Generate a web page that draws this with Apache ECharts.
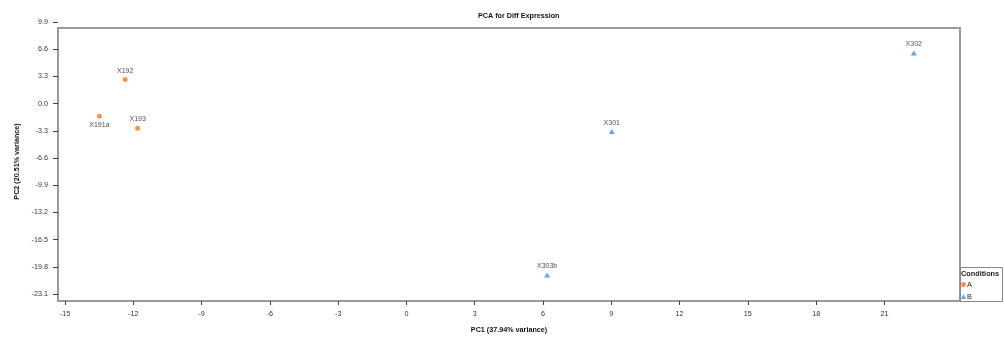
<!DOCTYPE html>
<html>
<head>
<meta charset="utf-8">
<script src="https://cdn.jsdelivr.net/npm/echarts@6/dist/echarts.min.js"></script>
<style>html,body{margin:0;padding:0;background:#fff}#c{width:1004px;height:340px}</style>
</head>
<body>
<div id="c"></div>
<script>
// ---- data ----
const samplesA = ['X191a', 'X192', 'X193'];
const pc1A = [-13.49, -12.36, -11.81];
const pc2A = [-1.54, 2.91, -3.0];
const samplesB = ['X301', 'X302', 'X303b'];
const pc1B = [9.02, 22.29, 6.18];
const pc2B = [-3.40, 6.15, -20.79];
const xTicks = [-15, -12, -9, -6, -3, 0, 3, 6, 9, 12, 15, 18, 21];
const yTicks = [9.9, 6.6, 3.3, 0.0, -3.3, -6.6, -9.9, -13.2, -16.5, -19.8, -23.1];
const conditions = ['A', 'B'];
const chartTitle = 'PCA for Diff Expression';
const xName = 'PC1 (37.94% variance)';
const yName = 'PC2 (20.51% variance)';

const belowLabels = new Set(['X191a']);
const FONT = '"Liberation Sans", Arial, sans-serif';

function pts(names, xs, ys) {
  return names.map((n, i) => ({
    name: n,
    value: [xs[i], ys[i]],
    label: { position: belowLabels.has(n) ? 'bottom' : 'top' }
  }));
}

const chart = echarts.init(document.getElementById('c'), null, { renderer: 'canvas' });
const labelCfg = { show: true, formatter: p => p.name, fontSize: 7, color: '#1a1a1a', fontFamily: FONT, distance: 3 };

chart.setOption({
  animation: false,
  title: {
    text: chartTitle, left: 473, top: 8,
    textStyle: { fontSize: 7.2, fontWeight: 'bold', color: '#111', fontFamily: FONT }
  },
  grid: { left: 58, right: 44, top: 22, bottom: 39 },
  xAxis: {
    type: 'value', min: -15.31, max: 24.32,
    name: xName, nameLocation: 'middle', nameGap: 26,
    nameTextStyle: { fontSize: 7.2, fontWeight: 'bold', color: '#111', fontFamily: FONT },
    axisLine: { show: false, onZero: false },
    axisTick: { show: true, customValues: xTicks, length: 4, lineStyle: { color: '#444' } },
    axisLabel: { customValues: xTicks, fontSize: 7.2, color: '#333', fontFamily: FONT, margin: 10 },
    splitLine: { show: false }
  },
  yAxis: {
    type: 'value', min: -23.95, max: 9.9,
    name: yName, nameLocation: 'middle', nameGap: 34, nameRotate: 90,
    nameTextStyle: { fontSize: 7.2, fontWeight: 'bold', color: '#111', fontFamily: FONT },
    axisLine: { show: false, onZero: false },
    axisTick: { show: true, customValues: yTicks, length: 5, lineStyle: { color: '#444' } },
    axisLabel: { customValues: yTicks, formatter: v => v.toFixed(1), fontSize: 7.2, color: '#333', fontFamily: FONT, margin: 10 },
    splitLine: { show: false }
  },
  legend: {
    data: [{ name: conditions[0], icon: 'circle' }, { name: conditions[1], icon: 'triangle' }],
    orient: 'vertical', left: 961, top: 281,
    itemWidth: 5, itemHeight: 5, itemGap: 5,
    textStyle: { fontSize: 7.3, color: '#222', fontFamily: FONT, padding: [0, 0, 0, -4] },
    padding: 0
  },
  graphic: [
    { type: 'rect', shape: { x: 58, y: 28, width: 902, height: 273 }, style: { fill: null, stroke: '#999', lineWidth: 2 }, z: 0 },
    { type: 'rect', shape: { x: 960.5, y: 267.5, width: 42, height: 34 }, style: { fill: null, stroke: '#888', lineWidth: 1 }, z: 0 },
    { type: 'text', x: 961, y: 270, style: { text: 'Conditions', fontSize: 7.3, fontWeight: 'bold', fill: '#222', fontFamily: FONT } }
  ],
  series: [
    {
      name: conditions[0], type: 'scatter', symbol: 'circle', symbolSize: 5,
      itemStyle: { color: '#f47b20' }, label: labelCfg,
      data: pts(samplesA, pc1A, pc2A)
    },
    {
      name: conditions[1], type: 'scatter', symbol: 'triangle', symbolSize: [6, 5],
      itemStyle: { color: '#3d8ee0' }, label: labelCfg,
      data: pts(samplesB, pc1B, pc2B)
    }
  ]
});
</script>
</body>
</html>
